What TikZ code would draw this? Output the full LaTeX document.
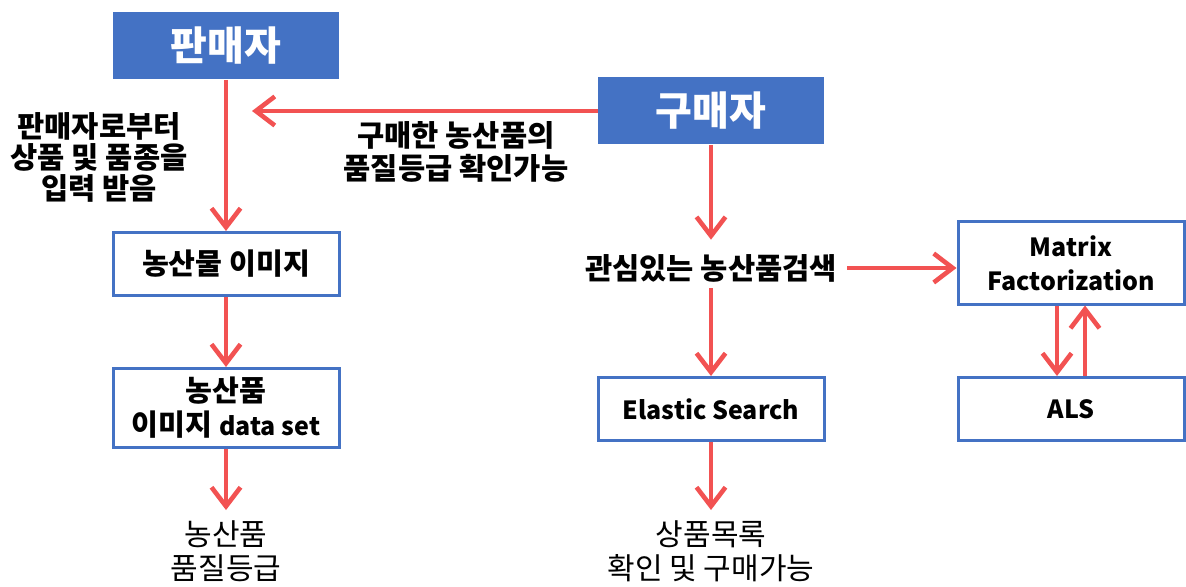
\documentclass[tikz,border=0pt]{standalone}
\usepackage{fontspec}
\setmainfont{Noto Sans CJK KR}
\usetikzlibrary{arrows.meta}
\usetikzlibrary{positioning}

\definecolor{boxblue}{HTML}{4472C4}
\definecolor{flowred}{HTML}{F25252}

% Latin words are set smaller than the Hangul
\newcommand{\latin}[1]{{\fontsize{12.5}{16}\selectfont #1}}

\tikzset{
  headbox/.style={fill=boxblue, text=white, font=\fontsize{20}{24}\selectfont\bfseries, minimum width=113pt, minimum height=33.5pt, inner sep=0pt},
  procbox/.style={draw=boxblue, line width=1.5pt, fill=white, font=\fontsize{14.6}{17}\selectfont\bfseries, align=center, minimum width=113pt, inner sep=0pt},
  note/.style={font=\fontsize{14.8}{15.5}\selectfont\bfseries, align=center, inner sep=1pt},
  outnote/.style={font=\fontsize{15}{17}\selectfont, align=center, inner sep=1pt},
  flow/.style={draw=flowred, line width=2.3pt, -{Straight Barb[length=9.5pt,width=14.5pt]}}
}

\begin{document}
\begin{tikzpicture} [x=0.5pt, y=-0.5pt]
\useasboundingbox (0,0) rectangle (1186,587);

% top row
\node[headbox] (seller) at (226,46) {판매자};
\node[headbox] (buyer) at (711,111) {구매자};

% seller column
\node[procbox, minimum height=31.5pt] (img) at (226,264) {농산물 이미지};
\node[procbox, minimum height=39.5pt] (data) at (226,408) {농산품\\이미지 \latin{data set}};
\node[outnote] (grade) at (226,551) {농산품\\품질등급};

% buyer column
\node[note] (search) at (711,268) {관심있는 농산품검색};
\node[procbox, minimum height=31.5pt] (elastic) at (711,409) {\latin{Elastic Search}};
\node[outnote] (shop) at (711,551) {상품목록\\확인 및 구매가능};

% recommender
\node[procbox, minimum height=41pt] (mf) at (1071,263) {\latin{Matrix}\\\latin{Factorization}};
\node[procbox, minimum height=31.5pt] (als) at (1071,409) {\latin{ALS}};

% labels
\node[note] (input) at (99,157) {판매자로부터\\상품 및 품종을\\입력 받음};
\node[note, font=\fontsize{14.8}{16.5}\selectfont\bfseries] (check) at (456,152) {구매한 농산품의\\품질등급 확인가능};

\coordinate (back) at (252,111);

\draw[flow] (seller) -- (img);
\draw[flow] (img) -- (data);
\draw[flow] (data) -- ([yshift=4pt]grade.north);
\draw[flow] (buyer.west) -- (back);
\draw[flow] (buyer) -- ([yshift=6pt]search.north);
\draw[flow] ([yshift=-2pt]search.south) -- (elastic);
\draw[flow] (elastic) -- ([yshift=4pt]shop.north);
\draw[flow] ([xshift=4pt]search.east) -- (search.east -| mf.west);
\draw[flow] ([xshift=-7pt]mf.south) -- ([xshift=-7pt]als.north);
\draw[flow] ([xshift=7pt]als.north) -- ([xshift=7pt]mf.south);

\end{tikzpicture}
\end{document}
